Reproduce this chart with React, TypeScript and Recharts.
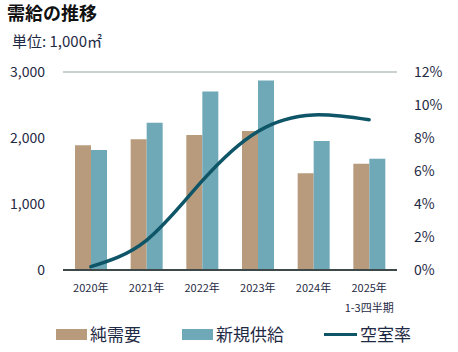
import React from 'react';
import { ComposedChart, Bar, Line, XAxis, YAxis, CartesianGrid, ReferenceLine } from 'recharts';

const years = ['2020年', '2021年', '2022年', '2023年', '2024年', '2025年'];
const netDemand = [1890, 1980, 2045, 2105, 1465, 1610];
const newSupply = [1820, 2230, 2705, 2870, 1955, 1685];
const vacancyRate = [0.2, 1.8, 5.4, 8.4, 9.4, 9.1];
const leftTicks = [0, 1000, 2000, 3000];
const rightTicks = [0, 2, 4, 6, 8, 10, 12];

const data = years.map((y, i) => ({
  year: y,
  demand: netDemand[i],
  supply: newSupply[i],
  rate: vacancyRate[i],
}));

const FONT = '"Noto Sans CJK JP", "Noto Sans", sans-serif';
const TEXT = '#1f2a44';
const TAN = '#b89a7c';
const BLUE = '#6fa9b8';
const LINE = '#0e5568';

const XTick = (props: any) => {
  const { x, y, payload, index } = props;
  return (
    <g>
      <text x={x} y={y + 14} textAnchor="middle" fontSize={11} fill={TEXT} fontFamily={FONT}>
        {payload.value}
      </text>
      {index === years.length - 1 && (
        <text x={x} y={y + 34} textAnchor="middle" fontSize={11} fill={TEXT} fontFamily={FONT}>
          1-3四半期
        </text>
      )}
    </g>
  );
};

export default function App() {
  return (
    <div style={{ position: 'relative', width: 458, height: 352, fontFamily: FONT, background: '#fff' }}>
      <style>{'body{margin:0}'}</style>
      <div style={{ position: 'absolute', left: 7, top: 0, fontSize: 18, fontWeight: 700, color: '#111', lineHeight: '24px' }}>
        需給の推移
      </div>
      <div style={{ position: 'absolute', left: 12, top: 30, fontSize: 15, color: TEXT, lineHeight: '22px' }}>
        単位: 1,000㎡
      </div>
      <ComposedChart
        width={458}
        height={352}
        data={data}
        margin={{ top: 72, right: 0, bottom: 0, left: 0 }}
        barGap={0}
        barCategoryGap={12}
      >
        <CartesianGrid vertical={false} stroke="#97a1a1" strokeWidth={1.2} />
        <XAxis
          dataKey="year"
          height={82}
          axisLine={false}
          tickLine={false}
          tick={<XTick />}
          interval={0}
        />
        <YAxis
          yAxisId="left"
          width={63}
          domain={[0, 3000]}
          ticks={leftTicks}
          tickFormatter={(v: number) => v.toLocaleString('en-US')}
          axisLine={false}
          tickLine={false}
          tickSize={0}
          tickMargin={18}
          tick={{ fontSize: 14, fill: TEXT, fontFamily: FONT }}
        />
        <YAxis
          yAxisId="right"
          orientation="right"
          width={61}
          domain={[0, 12]}
          ticks={rightTicks}
          tickFormatter={(v: number) => `${v}%`}
          axisLine={false}
          tickLine={false}
          tickSize={0}
          tickMargin={17}
          tick={{ fontSize: 14, fill: TEXT, fontFamily: FONT, textAnchor: 'start' }}
        />
        <Bar yAxisId="left" dataKey="demand" fill={TAN} barSize={16} isAnimationActive={false} />
        <Bar yAxisId="left" dataKey="supply" fill={BLUE} barSize={16} isAnimationActive={false} />
        <ReferenceLine yAxisId="left" y={0} stroke="#3d4848" strokeWidth={2} />
        <Line
          yAxisId="right"
          type="natural"
          dataKey="rate"
          stroke={LINE}
          strokeWidth={3.5}
          dot={false}
          strokeLinecap="round"
          isAnimationActive={false}
        />
      </ComposedChart>
      <div style={{ position: 'absolute', top: 322, left: 0, width: 458, height: 24, fontSize: 17, color: TEXT }}>
        <div style={{ position: 'absolute', left: 56, top: 7, width: 31, height: 11, background: TAN }} />
        <div style={{ position: 'absolute', left: 90, top: 0, lineHeight: '24px' }}>純需要</div>
        <div style={{ position: 'absolute', left: 182, top: 7, width: 31, height: 11, background: BLUE }} />
        <div style={{ position: 'absolute', left: 216, top: 0, lineHeight: '24px' }}>新規供給</div>
        <div style={{ position: 'absolute', left: 324, top: 11, width: 33, height: 3, background: LINE }} />
        <div style={{ position: 'absolute', left: 360, top: 0, lineHeight: '24px' }}>空室率</div>
      </div>
    </div>
  );
}
